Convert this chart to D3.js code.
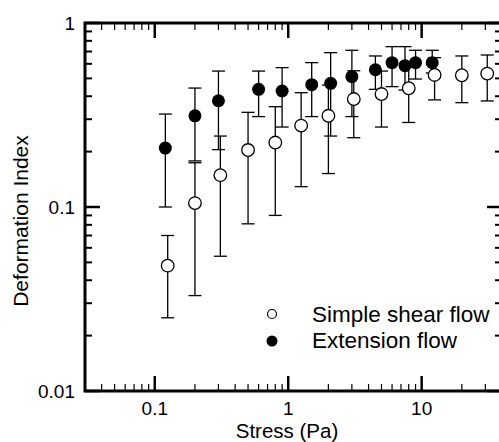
<!DOCTYPE html>
<html>
<head>
<meta charset="utf-8">
<script src="https://cdn.jsdelivr.net/npm/d3@7"></script>
<style>
  body { margin: 0; background: #fff; }
  text { font-family: "Liberation Sans", Arial, sans-serif; fill: #000; }
</style>
</head>
<body>
<div id="chart"></div>
<script>
// Simple shear flow (open circles): stress, index, error low, error high
const shearX = [0.125, 0.2, 0.31, 0.5, 0.8, 1.25, 2, 3.1, 5, 8, 12.5, 20, 31]
const shearY = [0.048, 0.105, 0.149, 0.204, 0.224, 0.277, 0.313, 0.386, 0.411, 0.442, 0.522, 0.52, 0.531]
const shearLo = [0.025, 0.033, 0.054, 0.081, 0.09, 0.129, 0.152, 0.238, 0.272, 0.288, 0.382, 0.369, 0.377]
const shearHi = [0.07, 0.174, 0.243, 0.327, 0.351, 0.418, 0.46, 0.55, 0.548, 0.6, 0.648, 0.662, 0.67]

// Extension flow (filled circles)
const extX = [0.12, 0.2, 0.3, 0.6, 0.9, 1.5, 2.08, 3, 4.5, 6, 7.5, 9, 12]
const extY = [0.209, 0.313, 0.378, 0.436, 0.427, 0.462, 0.47, 0.511, 0.557, 0.609, 0.586, 0.609, 0.609]
const extLo = [0.1, 0.178, 0.205, 0.31, 0.272, 0.31, 0.243, 0.31, 0.436, 0.451, 0.432, 0.496, 0.535]
const extHi = [0.32, 0.443, 0.548, 0.548, 0.572, 0.609, 0.69, 0.711, 0.662, 0.744, 0.744, 0.711, 0.711]

const xMajor = [0.1, 1, 10]
const xLabels = ['0.1', '1', '10']
const yMajor = [0.01, 0.1, 1]
const yLabels = ['0.01', '0.1', '1']
const legendNames = ['Simple shear flow', 'Extension flow']

const width = 499
const height = 442
const margin = { left: 85, top: 23, right: 502, bottom: 391 }

const svg = d3.select('#chart')
    .append('svg')
    .attr('width', width)
    .attr('height', height)

const x = d3.scaleLog()
    .domain([0.03, 40])
    .range([margin.left, margin.right])

const y = d3.scaleLog()
    .domain([0.01, 1])
    .range([margin.bottom, margin.top])

// minor ticks (2..9 in each decade) inside the domain
const xMinor = x.ticks().filter(v => !xMajor.includes(v) && v > 0.03 && v < 40)
const yMinor = y.ticks().filter(v => !yMajor.includes(v))

const minorLen = 7
const majorLen = 15

const ticks = svg.append('g').attr('stroke', '#000')

// bottom and top axes, ticks pointing inward
ticks.selectAll('.xmin')
    .data(xMinor)
    .join('g')
    .each(function (d) {
        const g = d3.select(this)
        g.append('line').attr('x1', x(d)).attr('x2', x(d))
            .attr('y1', margin.bottom).attr('y2', margin.bottom - minorLen).attr('stroke-width', 1.2)
        g.append('line').attr('x1', x(d)).attr('x2', x(d))
            .attr('y1', margin.top).attr('y2', margin.top + minorLen).attr('stroke-width', 1.2)
    })
ticks.selectAll('.xmaj')
    .data(xMajor)
    .join('g')
    .each(function (d) {
        const g = d3.select(this)
        g.append('line').attr('x1', x(d)).attr('x2', x(d))
            .attr('y1', margin.bottom).attr('y2', margin.bottom - majorLen).attr('stroke-width', 2.5)
        g.append('line').attr('x1', x(d)).attr('x2', x(d))
            .attr('y1', margin.top).attr('y2', margin.top + majorLen).attr('stroke-width', 2.5)
    })

// left and right axes
ticks.selectAll('.ymin')
    .data(yMinor)
    .join('g')
    .each(function (d) {
        const g = d3.select(this)
        g.append('line').attr('y1', y(d)).attr('y2', y(d))
            .attr('x1', margin.left).attr('x2', margin.left + minorLen).attr('stroke-width', 2)
        g.append('line').attr('y1', y(d)).attr('y2', y(d))
            .attr('x1', margin.right).attr('x2', margin.right - minorLen).attr('stroke-width', 2)
    })
ticks.selectAll('.ymaj')
    .data(yMajor)
    .join('g')
    .each(function (d) {
        const g = d3.select(this)
        g.append('line').attr('y1', y(d)).attr('y2', y(d))
            .attr('x1', margin.left).attr('x2', margin.left + majorLen).attr('stroke-width', 2.5)
        g.append('line').attr('y1', y(d)).attr('y2', y(d))
            .attr('x1', margin.right).attr('x2', margin.right - majorLen).attr('stroke-width', 2.5)
    })

// frame
svg.append('rect')
    .attr('x', margin.left)
    .attr('y', margin.top)
    .attr('width', margin.right - margin.left)
    .attr('height', margin.bottom - margin.top)
    .attr('fill', 'none')
    .attr('stroke', '#000')
    .attr('stroke-width', 3)

// tick labels
svg.selectAll('.xlab')
    .data(xMajor)
    .join('text')
    .attr('x', d => x(d))
    .attr('y', 415)
    .attr('text-anchor', 'middle')
    .attr('font-size', 19)
    .text((d, i) => xLabels[i])

svg.selectAll('.ylab')
    .data(yMajor)
    .join('text')
    .attr('x', 75)
    .attr('y', d => y(d) + 7)
    .attr('text-anchor', 'end')
    .attr('font-size', 19)
    .text((d, i) => yLabels[i])

// axis titles
svg.append('text')
    .attr('x', 287)
    .attr('y', 438)
    .attr('text-anchor', 'middle')
    .attr('font-size', 20.5)
    .text('Stress (Pa)')

svg.append('text')
    .attr('transform', 'translate(28,221) rotate(-90)')
    .attr('text-anchor', 'middle')
    .attr('font-size', 21)
    .text('Deformation Index')

// error bars
function errorBars(xs, lo, hi) {
    const g = svg.append('g').attr('stroke', '#000').attr('stroke-width', 1.3)
    const cap = 6.5
    xs.forEach((v, i) => {
        g.append('line').attr('x1', x(v)).attr('x2', x(v)).attr('y1', y(lo[i])).attr('y2', y(hi[i]))
        g.append('line').attr('x1', x(v) - cap).attr('x2', x(v) + cap).attr('y1', y(lo[i])).attr('y2', y(lo[i]))
        g.append('line').attr('x1', x(v) - cap).attr('x2', x(v) + cap).attr('y1', y(hi[i])).attr('y2', y(hi[i]))
    })
}
errorBars(shearX, shearLo, shearHi)
errorBars(extX, extLo, extHi)

// markers
svg.append('g')
    .selectAll('circle')
    .data(extX)
    .join('circle')
    .attr('cx', d => x(d))
    .attr('cy', (d, i) => y(extY[i]))
    .attr('r', 6.5)
    .attr('fill', '#000')

svg.append('g')
    .selectAll('circle')
    .data(shearX)
    .join('circle')
    .attr('cx', d => x(d))
    .attr('cy', (d, i) => y(shearY[i]))
    .attr('r', 6.3)
    .attr('fill', '#fff')
    .attr('stroke', '#000')
    .attr('stroke-width', 1.3)

// legend
const legend = svg.append('g')
legend.append('circle')
    .attr('cx', 272).attr('cy', 314).attr('r', 4.5)
    .attr('fill', '#fff').attr('stroke', '#000').attr('stroke-width', 1.2)
legend.append('circle')
    .attr('cx', 272).attr('cy', 341).attr('r', 5.5)
    .attr('fill', '#000')
legend.selectAll('text')
    .data(legendNames)
    .join('text')
    .attr('x', 312)
    .attr('y', (d, i) => 322 + i * 26)
    .attr('font-size', 22.5)
    .text(d => d)
</script>
</body>
</html>
